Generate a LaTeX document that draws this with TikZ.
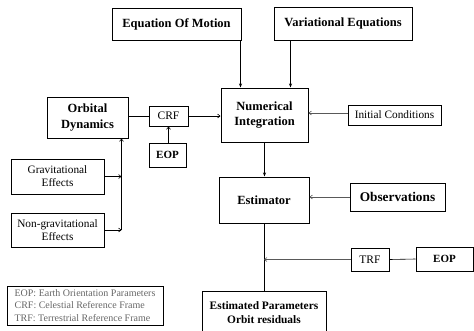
\documentclass[tikz,border=0pt]{standalone}
\usepackage{fontspec}
\setmainfont{Liberation Serif}
\usetikzlibrary{arrows.meta, positioning, calc}

\begin{document}
\begin{tikzpicture}[
    x=1pt, y=-1pt,
    box/.style={rectangle, draw=black, line width=1pt, inner sep=1pt, align=center, font=\fontsize{12.5}{15.5}\selectfont\bfseries},
    smallbox/.style={rectangle, draw=black, line width=0.9pt, inner sep=1pt, align=center, font=\fontsize{11.3}{13}\selectfont},
    arrow/.style={-{Stealth[length=4pt, width=3pt]}, line width=0.6pt},
    openarrow/.style={-{Straight Barb[length=2.5pt, width=4pt]}, line width=0.6pt},
    barb/.style={-{Straight Barb[length=2.5pt, width=4pt]}, line width=0.6pt, gray!70!black},
    link/.style={line width=0.6pt},
]
\useasboundingbox (0,0) rectangle (474,330);

% Top inputs
\node[box, minimum width=129pt, minimum height=32pt] (eom) at (176.5, 24) {Equation Of Motion};
\node[box, minimum width=138pt, minimum height=33pt] (vareq) at (343, 23.5) {Variational Equations};

% Integration block
\node[box, minimum width=87pt, minimum height=54pt] (numint) at (264.5, 115) {Numerical\\Integration};
\node[smallbox, minimum width=93pt, minimum height=20pt] (initcond) at (394.5, 115) {Initial Conditions};

% Force model side
\node[box, minimum width=81pt, minimum height=41pt] (orbdyn) at (87.5, 117.5) {Orbital\\Dynamics};
\node[smallbox, font=\fontsize{11.5}{13}\selectfont, minimum width=39pt, minimum height=20pt] (crf) at (168.5, 116) {CRF};
\node[box, font=\fontsize{11}{13}\selectfont\bfseries, minimum width=37pt, minimum height=24pt] (eopa) at (167.5, 155) {EOP};
\node[smallbox, minimum width=93pt, minimum height=35pt] (gravity) at (57.5, 176.5) {Gravitational\\Effects};
\node[smallbox, minimum width=93pt, minimum height=34pt] (nongrav) at (57.5, 230) {Non-gravitational\\Effects};

% Estimation block
\node[box, minimum width=90pt, minimum height=46pt] (estimator) at (264, 200) {Estimator};
\node[box, font=\fontsize{13.3}{15}\selectfont\bfseries, minimum width=95pt, minimum height=28pt] (obs) at (397.5, 197) {Observations};
\node[smallbox, font=\fontsize{11.5}{13}\selectfont, minimum width=38pt, minimum height=23pt] (trf) at (370, 259.5) {TRF};
\node[box, font=\fontsize{11}{13}\selectfont\bfseries, minimum width=57pt, minimum height=24pt] (eopb) at (444.5, 259) {EOP};
\node[box, font=\fontsize{11.4}{14}\selectfont\bfseries, minimum width=124pt, minimum height=44pt] (estparams) at (264, 313) {Estimated Parameters\\Orbit residuals};

% Legend
\node[smallbox, font=\fontsize{10}{12.5}\selectfont, text=gray!80!black, align=left, minimum width=156pt, minimum height=39pt] (legend) at (85, 305.5) {EOP: Earth Orientation Parameters\\CRF: Celestial Reference Frame\\TRF: Terrestrial Reference Frame};

% Connections into the integrator
\draw[arrow] ([xshift=-1pt]eom.south east) -- ([xshift=-1pt]eom.south east |- numint.north);
\draw[arrow] ([xshift=17pt]vareq.south west) -- ([xshift=17pt]vareq.south west |- numint.north);
\draw[barb] ([yshift=2pt]initcond.west) -- ([yshift=2pt]initcond.west -| numint.east);
\draw[link] (orbdyn.east |- crf.west) -- (crf.west);
\draw[openarrow] (crf.east) -- (crf.east -| numint.west);
\draw[openarrow] (eopa.north -| crf.south) -- (crf.south);

% Force contributions
\coordinate (merge) at ([xshift=-7pt]orbdyn.south east |- nongrav.east);
\draw[openarrow] (gravity.east) -- (gravity.east -| merge);
\draw[openarrow] (nongrav.east) -- (merge);
\draw[openarrow] (merge) -- ([xshift=-7pt]orbdyn.south east);

% Estimation
\draw[arrow] (numint.south) -- (numint.south |- estimator.north);
\draw[barb] (obs.west) -- (obs.west -| estimator.east);
\draw[link] (estimator.south) -- (estparams.north);
\draw[barb] (trf.west) -- (trf.west -| estimator.south);
\draw[link] (trf.east) -- (eopb.west);

\end{tikzpicture}
\end{document}
